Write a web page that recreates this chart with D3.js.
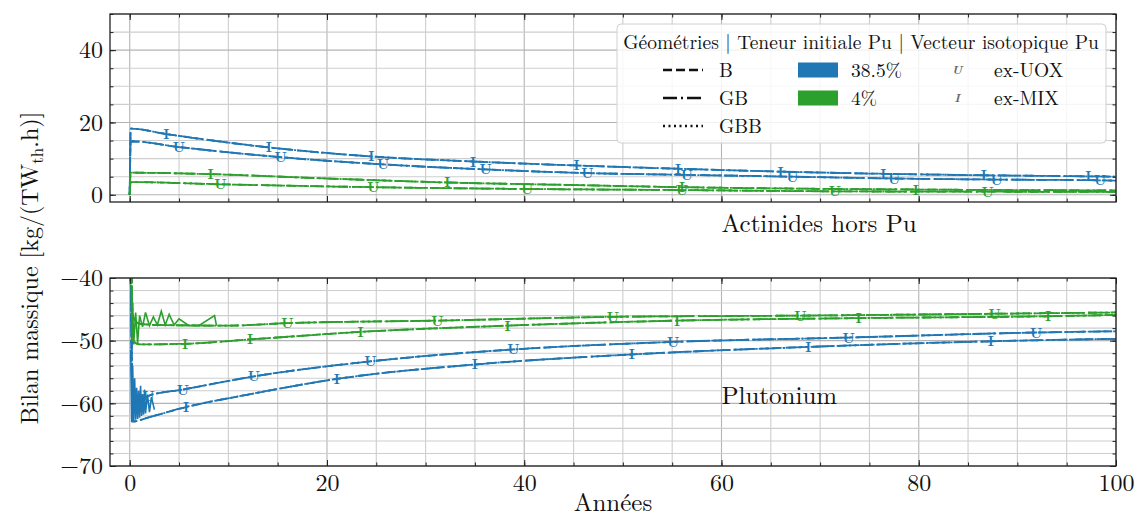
<!DOCTYPE html>
<html><head><meta charset="utf-8">
<script src="https://cdn.jsdelivr.net/npm/d3@7"></script>
<style>
body{margin:0;background:#fff}
svg{display:block}
</style>
</head><body>
<svg id="c" width="1135" height="517"></svg>
<script>
// ---------- tick labels / categories ----------
const xTicks = [0, 20, 40, 60, 80, 100];
const topTicks = [0, 20, 40];
const botTicks = [-70, -60, -50, -40];
const geometries = ["B", "GB", "GBB"];
const teneurs = ["38.5%", "4%"];
const vecteurs = ["ex-UOX", "ex-MIX"];

// ---------- Actinides hors Pu (top panel) ----------
const actBlueMixYears = [0, 0.1, 3.7, 14.1, 24.5, 34.8, 45.3, 55.6, 66, 76.4, 86.6, 97.2, 100];
const actBlueMixVals  = [0, 18.3, 16.8, 13.1, 10.6, 9.2, 8.1, 7.2, 6.4, 5.8, 5.4, 5.1, 5.0];
const actBlueMixMarks = [2, 3, 4, 5, 6, 7, 8, 9, 10, 11];

const actBlueUoxYears = [0, 0.1, 5, 15.3, 25.7, 36.1, 46.4, 56.5, 67.2, 77.5, 87.9, 98.4, 100];
const actBlueUoxVals  = [0, 14.8, 13.2, 10.4, 8.4, 7.0, 6.0, 5.5, 5.0, 4.5, 4.2, 4.0, 3.9];
const actBlueUoxMarks = [2, 3, 4, 5, 6, 7, 8, 9, 10, 11];

const actGreenMixYears = [0, 0.1, 8.2, 20, 32.2, 45, 56, 68, 79.7, 90, 100];
const actGreenMixVals  = [0, 6.1, 5.7, 4.5, 3.4, 2.7, 2.1, 1.7, 1.45, 1.3, 1.2];
const actGreenMixMarks = [2, 4, 6, 8];

const actGreenUoxYears = [0, 0.1, 9.2, 24.7, 40.3, 56, 71.5, 87, 100];
const actGreenUoxVals  = [0, 3.5, 2.9, 2.1, 1.6, 1.3, 0.95, 0.85, 0.8];
const actGreenUoxMarks = [2, 3, 4, 5, 6, 7];

// ---------- Plutonium (bottom panel) ----------
const puBlueMixYears = [0, 0.3, 2, 5.7, 12, 21, 35, 50.9, 68.8, 87.3, 100];
const puBlueMixVals  = [0, -62.9, -62.2, -60.6, -58.6, -56.1, -53.8, -52.2, -51.0, -50.1, -49.7];
const puBlueMixMarks = [3, 5, 6, 7, 8, 9];

const puBlueUoxYears = [0, 0.3, 1.9, 5.4, 12.6, 24.4, 38.9, 55.1, 72.9, 91.9, 100];
const puBlueUoxVals  = [0, -60.0, -58.8, -57.8, -55.7, -53.3, -51.4, -50.2, -49.5, -48.7, -48.5];
const puBlueUoxMarks = [2, 3, 4, 5, 6, 7, 8, 9];

const puGreenUoxYears = [0, 0.3, 1, 3, 10, 16, 31.2, 49, 68, 87.7, 100];
const puGreenUoxVals  = [0, -46.0, -47.3, -47.5, -47.6, -47.2, -46.8, -46.2, -46.0, -45.7, -45.5];
const puGreenUoxMarks = [5, 6, 7, 8, 9];

const puGreenMixYears = [0, 0.3, 1, 5.6, 12.2, 23.4, 38.3, 55.5, 73.9, 93.1, 100];
const puGreenMixVals  = [0, -50.0, -50.6, -50.5, -49.8, -48.6, -47.6, -46.8, -46.4, -46.1, -45.9];
const puGreenMixMarks = [3, 4, 5, 6, 7, 8, 9];

// early-time oscillations
const puBlueNoiseYears = [0.1, 0.2, 0.3, 0.4, 0.5, 0.6, 0.7, 0.8, 0.9, 1.0, 1.1, 1.2, 1.3, 1.4, 1.5, 1.6, 1.8, 2.0, 2.2, 2.5];
const puBlueNoiseVals  = [-51.5, -63, -54, -62.8, -56, -62.6, -57.5, -62.5, -58, -62.3, -57.2, -62, -58.5, -61.8, -57.8, -61.6, -58.6, -61.4, -59, -61];
const puGreenNoiseYears = [0.1, 0.2, 0.3, 0.4, 0.6, 0.8, 1.0, 1.3, 1.6, 2.0, 2.4, 2.8, 3.2, 3.6, 4.0, 4.5, 5.0, 6.0, 7.0, 8.6, 8.8];
const puGreenNoiseVals  = [-41, -50.5, -44, -50.6, -45.5, -50.4, -46, -47.8, -45.5, -47.6, -46.2, -47.5, -45.3, -47.5, -45.8, -47.5, -46.5, -47.6, -47.6, -46, -47.6];

const colors = {"38.5%": "#1f77b4", "4%": "#2ca02c"};
const markerChar = {"ex-UOX": "U", "ex-MIX": "I"};
const dashes = {"B": "9,4", "GB": "14,4,2,4", "GBB": "2,3.5"};
const FONT = '"Latin Modern Roman","CMU Serif","Liberation Serif",serif';

// ---------- layout ----------
const svg = d3.select("#c");
const X0 = 110, X1 = 1116;
const x = d3.scaleLinear().domain([-2, 100]).range([X0, X1]);
const panels = [
  {id: "top", y: d3.scaleLinear().domain([-2, 50]).range([202, 14]), ticks: topTicks, minor: d3.range(0, 51, 5), showX: false,
   series: [
     {t: "38.5%", v: "ex-MIX", xs: actBlueMixYears, ys: actBlueMixVals, m: actBlueMixMarks},
     {t: "38.5%", v: "ex-UOX", xs: actBlueUoxYears, ys: actBlueUoxVals, m: actBlueUoxMarks},
     {t: "4%", v: "ex-MIX", xs: actGreenMixYears, ys: actGreenMixVals, m: actGreenMixMarks},
     {t: "4%", v: "ex-UOX", xs: actGreenUoxYears, ys: actGreenUoxVals, m: actGreenUoxMarks}
   ], noise: []},
  {id: "bot", y: d3.scaleLinear().domain([-70, -40]).range([466, 278]), ticks: botTicks, minor: d3.range(-70, -39, 2), showX: true,
   series: [
     {t: "38.5%", v: "ex-MIX", xs: puBlueMixYears, ys: puBlueMixVals, m: puBlueMixMarks},
     {t: "38.5%", v: "ex-UOX", xs: puBlueUoxYears, ys: puBlueUoxVals, m: puBlueUoxMarks},
     {t: "4%", v: "ex-MIX", xs: puGreenMixYears, ys: puGreenMixVals, m: puGreenMixMarks},
     {t: "4%", v: "ex-UOX", xs: puGreenUoxYears, ys: puGreenUoxVals, m: puGreenUoxMarks}
   ],
   noise: [
     {t: "38.5%", xs: puBlueNoiseYears, ys: puBlueNoiseVals},
     {t: "4%", xs: puGreenNoiseYears, ys: puGreenNoiseVals}
   ]}
];

const xMinor = d3.range(0, 101, 5);
const fmt = d => (d < 0 ? "\u2212" + Math.abs(d) : String(d));
const txt = (sel, size) => sel.style("font-family", FONT).style("font-size", size + "px").style("fill", "#111");

panels.forEach(p => {
  const y = p.y;
  const [Y1, Y0] = y.range();
  const g = svg.append("g");
  svg.append("clipPath").attr("id", "clip-" + p.id)
    .append("rect").attr("x", X0).attr("y", Y0).attr("width", X1 - X0).attr("height", Y1 - Y0);

  // grid
  const grid = g.append("g");
  xMinor.forEach(v => {
    grid.append("line").attr("x1", x(v)).attr("x2", x(v)).attr("y1", Y0).attr("y2", Y1)
      .attr("stroke", xTicks.includes(v) ? "#b4b4b4" : "#cecece").attr("stroke-width", 1.1);
  });
  p.minor.forEach(v => {
    grid.append("line").attr("x1", X0).attr("x2", X1).attr("y1", y(v)).attr("y2", y(v))
      .attr("stroke", p.ticks.includes(v) ? "#b4b4b4" : "#cecece").attr("stroke-width", 1.1);
  });

  // data
  const plot = g.append("g").attr("clip-path", "url(#clip-" + p.id + ")");
  p.noise.forEach(n => {
    const pts = n.xs.map((d, i) => [d, n.ys[i]]);
    plot.append("path").attr("d", d3.line().x(d => x(d[0])).y(d => y(d[1]))(pts))
      .attr("fill", "none").attr("stroke", colors[n.t]).attr("stroke-width", 1.6);
  });
  const line = d3.line().x(d => x(d[0])).y(d => y(d[1])).curve(d3.curveMonotoneX);
  p.series.forEach(s => {
    const pts = s.xs.map((d, i) => [d, s.ys[i]]);
    geometries.forEach(geo => {
      plot.append("path").attr("d", line(pts))
        .attr("fill", "none").attr("stroke", colors[s.t]).attr("stroke-width", 1.8)
        .attr("stroke-dasharray", dashes[geo]);
    });
  });
  p.series.forEach(s => {
    s.m.forEach(i => {
      const t = plot.append("text").attr("x", x(s.xs[i])).attr("y", y(s.ys[i]) + 5)
        .attr("text-anchor", "middle").style("font-weight", "bold").text(markerChar[s.v]);
      txt(t, 14).style("fill", colors[s.t]);
    });
  });

  // axes (inward ticks on all sides)
  const ax = g.append("g");
  const addAxis = (axis, tx, ty) => {
    const a = ax.append("g").attr("transform", `translate(${tx},${ty})`).call(axis);
    a.select(".domain").remove();
    a.selectAll("line").attr("stroke", "#222").attr("stroke-width", 1);
    return a;
  };
  const la = addAxis(d3.axisLeft(y).tickValues(p.ticks).tickSize(-6).tickPadding(7).tickFormat(fmt), X0, 0);
  txt(la.selectAll("text"), 24);
  addAxis(d3.axisLeft(y).tickValues(p.minor).tickSize(-3.5).tickFormat(""), X0, 0);
  addAxis(d3.axisRight(y).tickValues(p.ticks).tickSize(-6).tickFormat(""), X1, 0);
  addAxis(d3.axisRight(y).tickValues(p.minor).tickSize(-3.5).tickFormat(""), X1, 0);
  const ba = addAxis(d3.axisBottom(x).tickValues(xTicks).tickSize(-6).tickPadding(8).tickFormat(p.showX ? fmt : ""), 0, Y1);
  txt(ba.selectAll("text"), 24);
  addAxis(d3.axisBottom(x).tickValues(xMinor).tickSize(-3.5).tickFormat(""), 0, Y1);
  addAxis(d3.axisTop(x).tickValues(xTicks).tickSize(-6).tickFormat(""), 0, Y0);
  addAxis(d3.axisTop(x).tickValues(xMinor).tickSize(-3.5).tickFormat(""), 0, Y0);
  g.append("rect").attr("x", X0).attr("y", Y0).attr("width", X1 - X0).attr("height", Y1 - Y0)
    .attr("fill", "none").attr("stroke", "#222").attr("stroke-width", 1.3);
});

// panel annotations
txt(svg.append("text").attr("x", x(60)).attr("y", 232).text("Actinides hors Pu"), 25);
txt(svg.append("text").attr("x", x(60)).attr("y", 404).text("Plutonium"), 25);

// axis titles
txt(svg.append("text").attr("x", 613).attr("y", 511).attr("text-anchor", "middle").text("Années"), 25);
const yl = svg.append("text").attr("transform", "translate(38,268) rotate(-90)").attr("text-anchor", "middle");
txt(yl, 24);
yl.append("tspan").text("Bilan massique [kg/(TW");
yl.append("tspan").style("font-size", "17px").attr("dy", 5).text("th");
yl.append("tspan").attr("dy", -5).text(".h)]");

// legend
const LF = 19.5;
const lg = svg.append("g");
lg.append("rect").attr("x", 617).attr("y", 24).attr("width", 489).attr("height", 119).attr("rx", 4)
  .attr("fill", "#fff").attr("fill-opacity", 0.82).attr("stroke", "#d0d0d0");
txt(lg.append("text").attr("x", 861).attr("y", 49).attr("text-anchor", "middle")
  .text("Géométries | Teneur initiale Pu | Vecteur isotopique Pu"), LF);
const rowY = [70, 98, 126];
geometries.forEach((geo, i) => {
  lg.append("line").attr("x1", 663).attr("x2", 703).attr("y1", rowY[i]).attr("y2", rowY[i])
    .attr("stroke", "#111").attr("stroke-width", 2.4).attr("stroke-dasharray", dashes[geo]);
  txt(lg.append("text").attr("x", 719).attr("y", rowY[i] + 7).text(geo), LF);
});
teneurs.forEach((t, i) => {
  lg.append("rect").attr("x", 798).attr("y", rowY[i] - 7.5).attr("width", 40).attr("height", 15)
    .attr("fill", colors[t]);
  txt(lg.append("text").attr("x", 851).attr("y", rowY[i] + 7).text(t), LF);
});
vecteurs.forEach((v, i) => {
  txt(lg.append("text").attr("x", 957).attr("y", rowY[i] + 4).attr("text-anchor", "middle")
    .style("font-style", "italic").style("font-weight", "bold").text(markerChar[v]), 12).style("fill", "#666");
  txt(lg.append("text").attr("x", 994).attr("y", rowY[i] + 7).text(v), LF);
});
</script>
</body></html>
